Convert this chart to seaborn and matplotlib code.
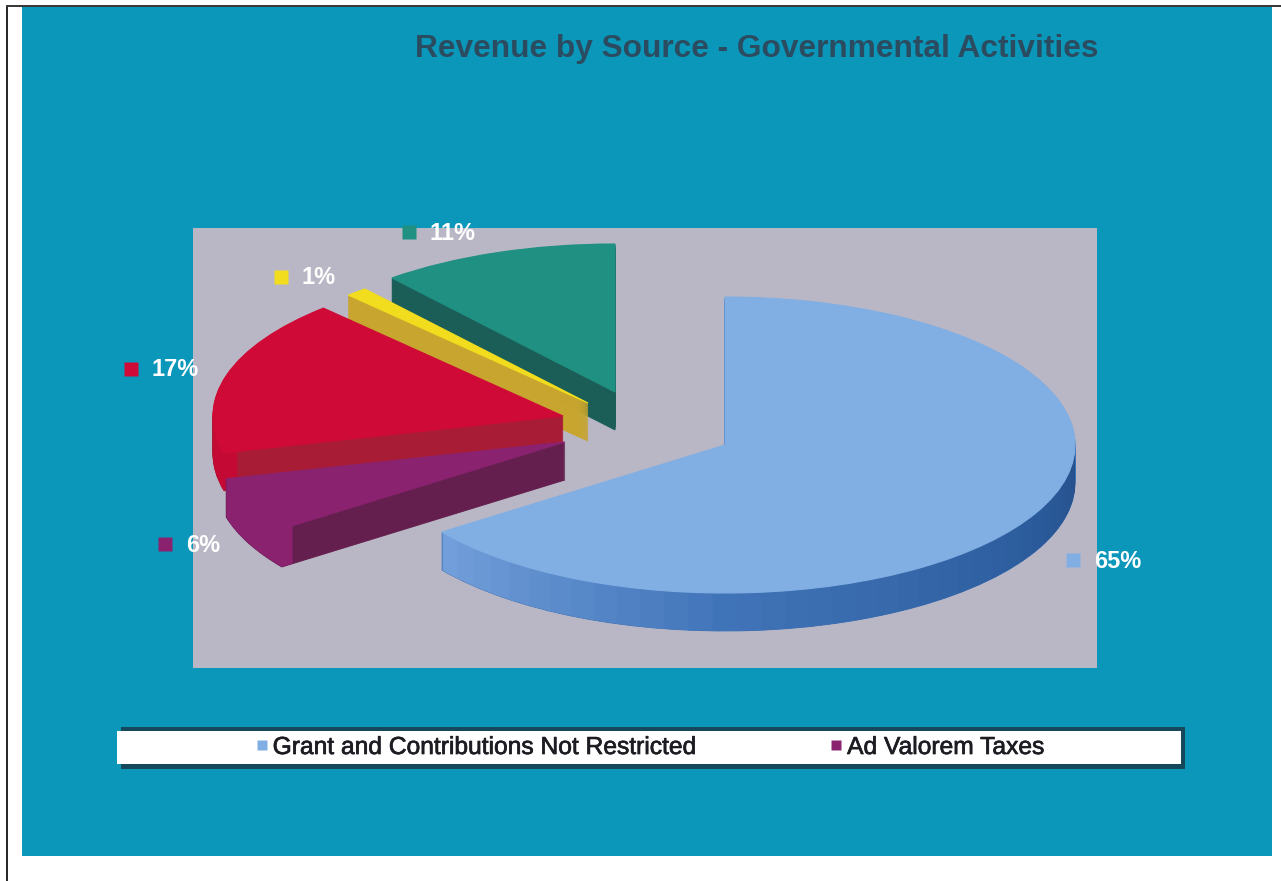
import matplotlib
matplotlib.use("Agg")
import matplotlib.pyplot as plt
import matplotlib.patheffects as pe
import numpy as np
import seaborn as sns
from matplotlib.colors import to_rgb
from matplotlib.lines import Line2D
from matplotlib.patches import Rectangle, Wedge

sns.set_theme(style="white")
plt.rcParams["font.family"] = ["Liberation Sans", "DejaVu Sans"]

# Revenue shares, in the order they run clockwise from twelve o'clock
sources = ["Grant and Contributions Not Restricted", "Ad Valorem Taxes",
           "Charges for Services", "Interest", "Other Revenue"]
shares = [65, 6, 17, 1, 11]
share_labels = ["65%", "6%", "17%", "1%", "11%"]
legend_sources = [0, 1]

top_colors = sns.color_palette(["#82afe3", "#8b2270", "#cf0a36", "#f2dc1e", "#1f9082"])
cut_colors = sns.color_palette(["#3f72b5", "#641f4e", "#a81c36", "#c8a52e", "#1b5e58"])
rim_colors = sns.color_palette(["#3f72b5", "#8b2270", "#c40a34", "#c8a52e", "#1b5e58"])

W, H = 1281, 881
RX, RY = 350.0, 148.0  # ellipse radii of the tilted pie, in pixels
DEPTH = 38             # height of the extruded side, in pixels


def px(x, y):
    """Pixel position (top-left origin) to axis units of the squashed pie."""
    return x / RX, (H - y) / RY


# Exploded centre of every slice and where its percentage label goes
centres = [(725, 445), (565, 442), (563, 416), (588, 403), (615, 392)]
label_pos = [(1073, 560), (165, 544), (131, 369), (281, 277), (409, 232)]

fig = plt.figure(figsize=(W / 100, H / 100), dpi=100, facecolor="white")
ax = fig.add_axes([0, 0, 1, 1])

wedges, _ = ax.pie(shares, colors=top_colors, startangle=90, counterclock=False,
                   radius=1.0, wedgeprops={"linewidth": 0})
ax.set_aspect("auto")
ax.set_xlim(0, W / RX)
ax.set_ylim(0, H / RY)
ax.axis("off")


def blue_rim(theta):
    """Side shading of the big slice: dark on the right, lighter to the left."""
    theta = (theta + 180) % 360 - 180
    stops = [-144, -90, -30, 0]
    cols = np.array([to_rgb(c) for c in ["#74a0dc", "#4074b8", "#2c5c9c", "#26508c"]])
    return tuple(np.interp(theta, stops, cols[:, i]) for i in range(3))


# Slices are painted back to front: green, yellow, red, purple, blue
for i, w in enumerate(wedges):
    base = 10 + (len(wedges) - 1 - i) * 10
    cx, cy = px(*centres[i])
    w.set_center((cx, cy))
    w.set_zorder(base + 5)
    w.set_edgecolor(top_colors[i])
    w.set_linewidth(0.8)
    t1, t2 = w.theta1, w.theta2
    for k in range(DEPTH, 0, -1):
        off = cy - k / RY
        # Radial cut faces
        ax.add_patch(Wedge((cx, off), 1.0, t1, t2, fc=cut_colors[i], ec=cut_colors[i],
                           lw=0.6, zorder=base))
        # Outer curved wall
        if i == 0:
            for a in np.arange(t1, t2, 4.0):
                if -150 <= (a + 180) % 360 - 180 <= 6:
                    ax.add_patch(Wedge((cx, off), 1.0, a, min(a + 5, t2), width=0.04,
                                       fc=blue_rim(a + 2), lw=0, zorder=base + 1))
        else:
            ax.add_patch(Wedge((cx, off), 1.0, t1, t2, width=0.04,
                               fc=rim_colors[i], lw=0, zorder=base + 1))


# Page border and coloured chart panel
def box(x0, y0, x1, y1, z, **kw):
    ax0, ay0 = px(x0, y1)
    ax1, ay1 = px(x1, y0)
    ax.add_patch(Rectangle((ax0, ay0), ax1 - ax0, ay1 - ay0, lw=0, zorder=z, **kw))


box(6, 5, 8, 881, 1, fc="#2a2a2a")
box(6, 5, 1281, 7, 1, fc="#3a3a3a")
box(22, 7, 1272, 856, 2, fc="#0a97b9")
box(193, 228, 1097, 668, 3, fc="#b9b7c5")

# Legend strip with its shadow
box(121, 727, 1185, 769, 90, fc="#15485a")
box(117, 731, 1181, 764, 91, fc="white")
handles = [Line2D([], [], ls="", marker="s", ms=7, mfc=top_colors[j], mec="none")
           for j in legend_sources]
legend = ax.legend(handles, [sources[j] for j in legend_sources], ncol=2, frameon=False,
                   loc="center left", bbox_to_anchor=(237 / W, 1 - 747 / H),
                   bbox_transform=fig.transFigure, fontsize=17.7, handletextpad=-0.55,
                   columnspacing=4.68, labelcolor="#1c1c22", borderpad=0, borderaxespad=0)
legend.set_zorder(95)
for t in legend.get_texts():
    t.set_path_effects([pe.withStroke(linewidth=0.5, foreground="#1c1c22")])

# Percentage labels with their colour keys
for i, (x, y) in enumerate(label_pos):
    ax.plot(*px(x, y), ls="", marker="s", ms=10, mfc=top_colors[i], mec="none",
            zorder=70, clip_on=False)
    ax.text(*px(x + 21, y + 1), share_labels[i], color="white", fontsize=17,
            fontweight="bold", ha="left", va="center", zorder=71)

ax.text(*px(757, 49), "Revenue by Source - Governmental Activities", color="#2b4c60",
        fontsize=22.8, fontweight="bold", ha="center", va="center", zorder=71)

fig.savefig("out.png", dpi=100, facecolor="white")
